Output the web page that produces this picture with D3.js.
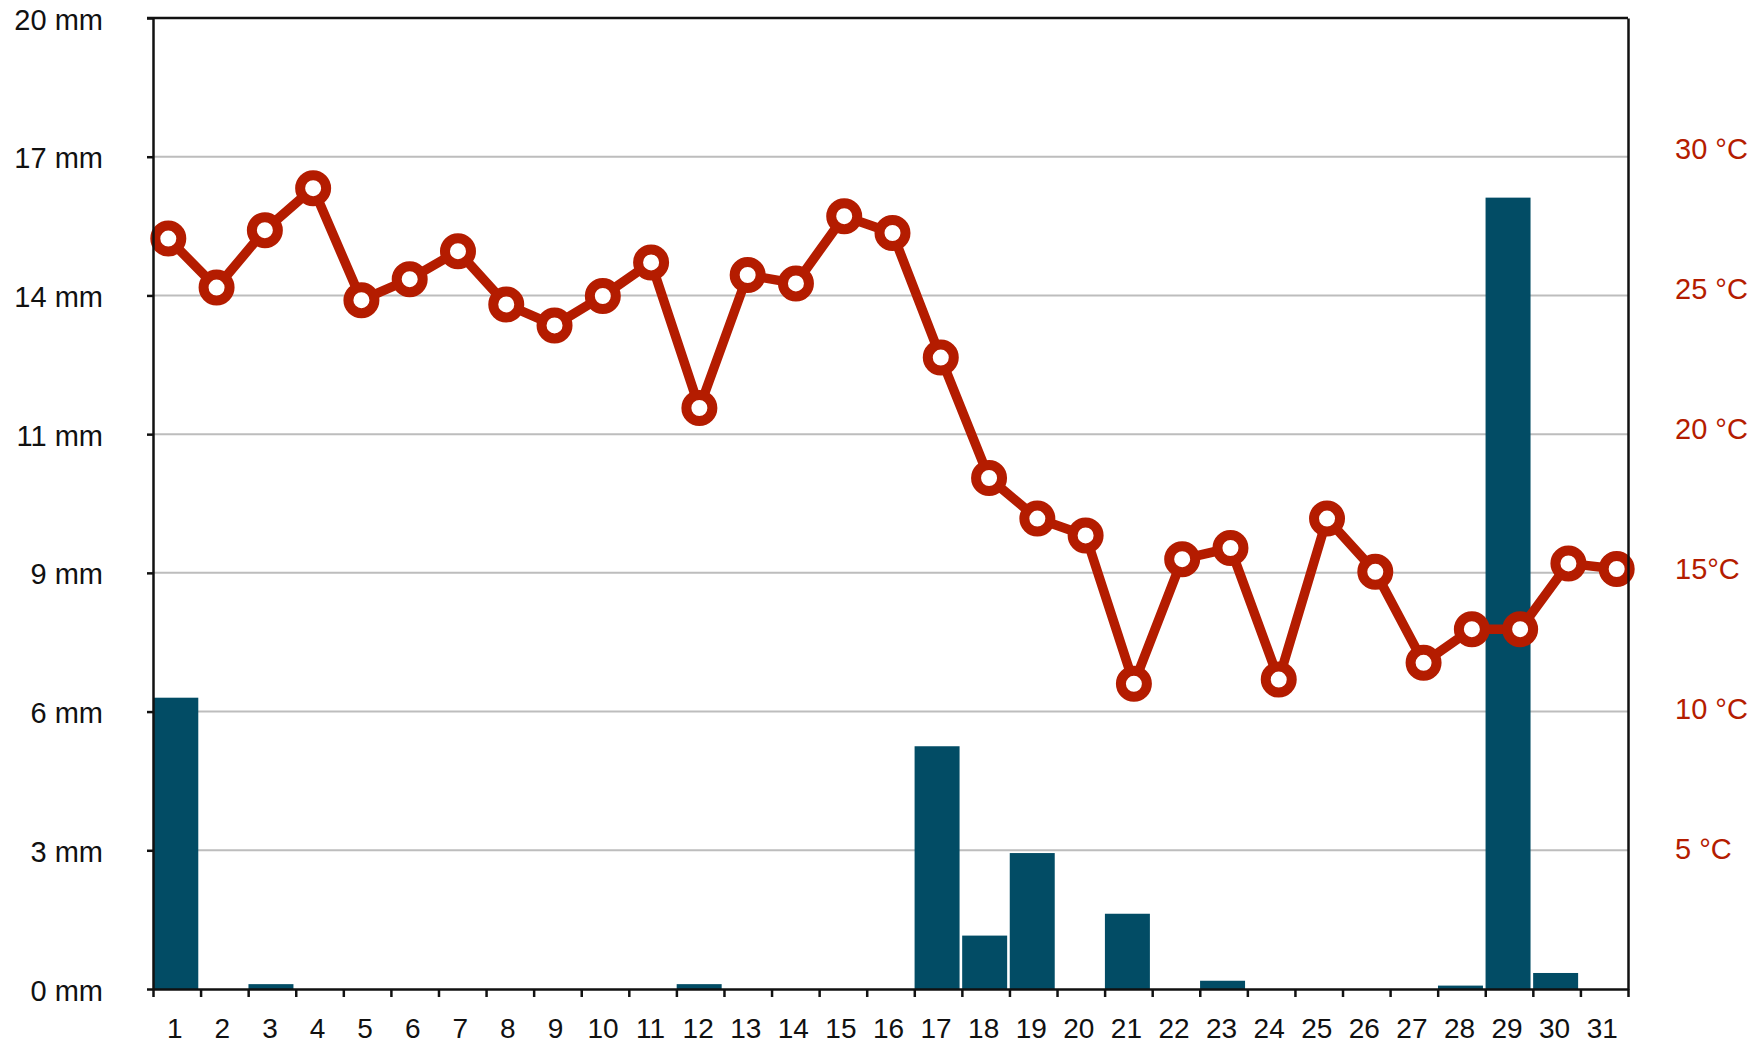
<!DOCTYPE html>
<html>
<head>
<meta charset="utf-8">
<script src="https://cdn.jsdelivr.net/npm/d3@7"></script>
<style>
  body { margin: 0; background: #fff; }
  text { font-family: "Liberation Sans", Arial, Helvetica, sans-serif; }
</style>
</head>
<body>
<div id="chart"></div>
<script>
  // dias del mes
  var days = d3.range(1, 32);

  // lluvia diaria (mm)
  var rain = [6.0, 0, 0.1, 0, 0, 0, 0, 0, 0, 0, 0, 0.1, 0, 0, 0, 0,
              5.0, 1.1, 2.8, 0, 1.55, 0, 0.17, 0, 0, 0, 0, 0.07, 16.3, 0.33, 0];

  // temperatura (°C)
  var temp = [26.8, 25.05, 27.1, 28.6, 24.6, 25.35, 26.35, 24.45, 23.7, 24.75, 25.95,
              20.75, 25.5, 25.2, 27.6, 27.0, 22.55, 18.25, 16.8, 16.2, 10.9, 15.35,
              15.75, 11.05, 16.8, 14.9, 11.65, 12.85, 12.85, 15.2, 15.0];

  // etiquetas de los ejes
  var rainMax = 20;
  var rainTickLabels = ["0 mm", "3 mm", "6 mm", "9 mm", "11 mm", "14 mm", "17 mm", "20 mm"];
  var tempTicks = [5, 10, 15, 20, 25, 30];
  var tempTickLabels = ["5 °C", "10 °C", "15°C", "20 °C", "25 °C", "30 °C"];

  var margin = {top: 18, right: 132, bottom: 63, left: 153},
    width = 1760 - margin.left - margin.right,
    height = 1052 - margin.top - margin.bottom;

  var red = "#b41c00", blue = "#024c65", ink = "#111";

  var svg = d3.select("#chart")
    .append("svg")
      .attr("width", width + margin.left + margin.right)
      .attr("height", height + margin.top + margin.bottom)
    .append("g")
      .attr("transform", "translate(" + margin.left + "," + margin.top + ")");

  // escalas
  var x = d3.scaleBand().domain(days).range([0, width]);
  var xEdge = d3.scaleLinear().domain([0, days.length]).range([0, width]);
  var xPoint = d3.scalePoint().domain(days).range([15.3, width - 11.3]);
  var yRain = d3.scaleLinear().domain([0, rainMax]).range([height, 0]);
  var yTemp = d3.scaleLinear().domain([0, height / 28]).range([height, 0]);

  var rainTicks = d3.range(rainTickLabels.length).map(function(i) { return rainMax * i / 7; });

  // rejilla
  svg.append("g")
    .selectAll("line")
    .data(rainTicks.slice(1, -1))
    .enter().append("line")
      .attr("x1", 0)
      .attr("x2", width)
      .attr("y1", function(d) { return yRain(d); })
      .attr("y2", function(d) { return yRain(d); })
      .attr("stroke", "#bdbdbd")
      .attr("stroke-width", 2);

  // barras de lluvia
  svg.append("g")
    .selectAll("rect")
    .data(days)
    .enter().append("rect")
      .attr("x", function(d) { return x(d) + 0.3; })
      .attr("width", x.bandwidth() - 2.6)
      .attr("y", function(d, i) { return yRain(rain[i]); })
      .attr("height", function(d, i) { return height - yRain(rain[i]); })
      .attr("fill", blue);

  // linea de temperatura
  svg.append("path")
    .datum(days)
    .attr("fill", "none")
    .attr("stroke", red)
    .attr("stroke-width", 9.5)
    .attr("stroke-linejoin", "round")
    .attr("d", d3.line()
      .x(function(d) { return xPoint(d); })
      .y(function(d, i) { return yTemp(temp[i]); })
    );

  svg.append("g")
    .selectAll("circle")
    .data(days)
    .enter().append("circle")
      .attr("cx", function(d) { return xPoint(d); })
      .attr("cy", function(d, i) { return yTemp(temp[i]); })
      .attr("r", 13)
      .attr("fill", "#fff")
      .attr("stroke", red)
      .attr("stroke-width", 10);

  // eje izquierdo
  var yAxis = svg.append("g")
    .call(d3.axisLeft(yRain)
      .tickValues(rainTicks)
      .tickFormat(function(d, i) { return rainTickLabels[i]; })
      .tickSize(6)
      .tickSizeOuter(0)
      .tickPadding(44));
  yAxis.selectAll("text").attr("font-size", 29).attr("fill", ink).attr("dy", "0.38em");

  // eje derecho
  var yAxisR = svg.append("g")
    .attr("transform", "translate(" + width + ",0)")
    .call(d3.axisRight(yTemp)
      .tickValues(tempTicks)
      .tickFormat(function(d, i) { return tempTickLabels[i]; })
      .tickSize(0)
      .tickSizeOuter(0)
      .tickPadding(47));
  yAxisR.selectAll("text").attr("font-size", 29).attr("fill", red);

  // eje inferior: marcas entre dias
  svg.append("g")
    .attr("transform", "translate(0," + height + ")")
    .call(d3.axisBottom(xEdge)
      .tickValues(d3.range(days.length + 1))
      .tickFormat("")
      .tickSize(8)
      .tickSizeOuter(0));

  // etiquetas de los dias
  var xLabels = svg.append("g")
    .attr("transform", "translate(-2," + height + ")")
    .call(d3.axisBottom(x).tickSize(0).tickPadding(29));
  xLabels.select(".domain").remove();
  xLabels.selectAll("text").attr("font-size", 28).attr("fill", ink);

  // borde superior
  svg.append("line")
    .attr("x1", -6).attr("x2", width)
    .attr("y1", 0).attr("y2", 0)
    .attr("stroke", ink)
    .attr("stroke-width", 2.5);

  svg.selectAll(".domain, .tick line")
    .attr("stroke", ink)
    .attr("stroke-width", 2.5);
</script>
</body>
</html>
